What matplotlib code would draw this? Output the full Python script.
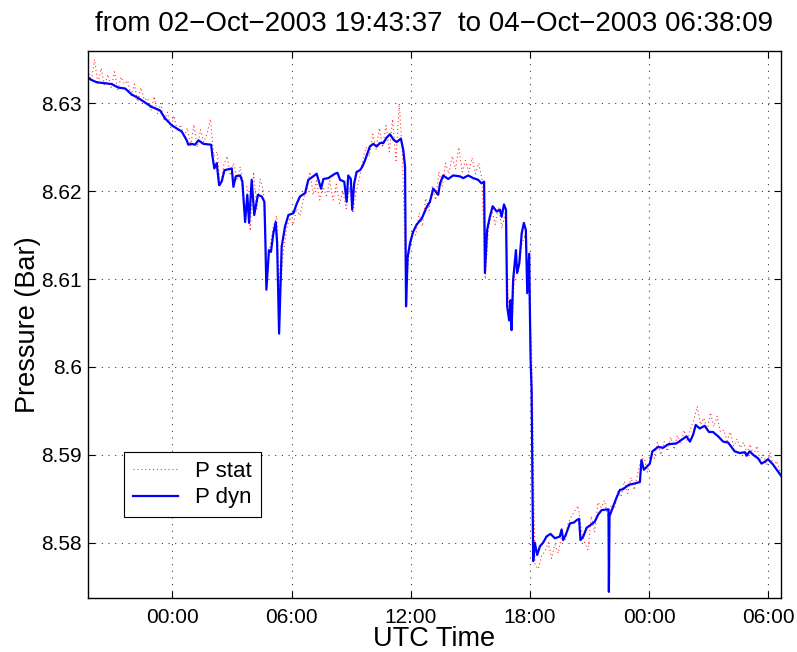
import numpy as np
import pandas as pd
import matplotlib
matplotlib.use('Agg')
import matplotlib.pyplot as plt
import matplotlib.dates as mdates
from matplotlib.ticker import FixedLocator, FuncFormatter

plt.rcParams['font.family'] = ['Liberation Sans', 'DejaVu Sans']

# hours relative to 03-Oct-2003 00:00 UTC
t_start = -4.2731   # 02-Oct-2003 19:43:37
t_end = 30.6358     # 04-Oct-2003 06:38:09

# P dyn (blue)
dyn_t = [-4.27, -4.10, -3.80, -3.39, -3.05, -2.72, -2.38, -2.04, -1.71, -1.37,
         -1.04, -0.62, -0.37, -0.03, 0.47, 0.72, 0.80, 0.97, 1.14, 1.31,
         1.56, 1.95, 2.01, 2.11, 2.23, 2.35, 2.48, 2.62, 2.99, 3.07,
         3.19, 3.41, 3.52, 3.66, 3.77, 3.86, 3.99, 4.12, 4.30, 4.50,
         4.63, 4.68, 4.73, 4.86, 4.96, 5.08, 5.20, 5.27, 5.37, 5.50,
         5.67, 5.84, 6.09, 6.26, 6.42, 6.68, 6.84, 7.09, 7.26, 7.48,
         7.60, 7.85, 8.18, 8.31, 8.44, 8.65, 8.77, 8.85, 8.98, 9.05,
         9.15, 9.27, 9.44, 9.56, 9.69, 9.94, 10.11, 10.28, 10.45, 10.62,
         10.78, 10.95, 11.12, 11.29, 11.50, 11.62, 11.71, 11.76, 11.84, 11.96,
         12.12, 12.29, 12.55, 12.80, 12.96, 13.13, 13.38, 13.47, 13.63, 13.88,
         14.13, 14.47, 14.64, 14.89, 15.14, 15.39, 15.56, 15.69, 15.73, 15.84,
         15.98, 16.12, 16.32, 16.49, 16.57, 16.69, 16.79, 16.85, 16.95, 17.02,
         17.07, 17.15, 17.29, 17.35, 17.46, 17.58, 17.69, 17.79, 17.86, 17.96,
         17.99, 18.03, 18.08, 18.13, 18.16, 18.24, 18.36, 18.50, 18.66, 18.83,
         19.03, 19.25, 19.50, 19.59, 19.67, 19.80, 20.01, 20.21, 20.37, 20.47,
         20.54, 20.68, 20.85, 21.10, 21.26, 21.43, 21.60, 21.95, 21.97, 22.00,
         22.18, 22.35, 22.52, 22.69, 22.86, 22.99, 23.20, 23.36, 23.53, 23.61,
         23.73, 24.03, 24.16, 24.45, 24.70, 24.95, 25.37, 25.62, 25.88, 26.05,
         26.21, 26.34, 26.54, 26.79, 27.01, 27.21, 27.47, 27.72, 27.97, 28.30,
         28.56, 28.81, 28.90, 29.06, 29.23, 29.48, 29.65, 29.81, 29.98, 30.23,
         30.64]
dyn_v = [8.6330, 8.6327, 8.6324, 8.6323, 8.6322, 8.6318, 8.6317, 8.6310, 8.6306, 8.6301,
         8.6296, 8.6292, 8.6283, 8.6275, 8.6268, 8.6258, 8.6253, 8.6254, 8.6253, 8.6258,
         8.6254, 8.6253, 8.6241, 8.6226, 8.6232, 8.6207, 8.6211, 8.6224, 8.6226, 8.6205,
         8.6217, 8.6218, 8.6211, 8.6165, 8.6196, 8.6164, 8.6213, 8.6173, 8.6196, 8.6194,
         8.6188, 8.6144, 8.6088, 8.6133, 8.6131, 8.6152, 8.6165, 8.6141, 8.6038, 8.6137,
         8.6160, 8.6173, 8.6175, 8.6186, 8.6194, 8.6198, 8.6213, 8.6217, 8.6220, 8.6203,
         8.6214, 8.6215, 8.6220, 8.6221, 8.6213, 8.6211, 8.6188, 8.6218, 8.6214, 8.6179,
         8.6209, 8.6222, 8.6224, 8.6228, 8.6235, 8.6251, 8.6254, 8.6251, 8.6255, 8.6255,
         8.6261, 8.6265, 8.6259, 8.6256, 8.6260, 8.6247, 8.6228, 8.6069, 8.6125, 8.6141,
         8.6154, 8.6162, 8.6169, 8.6182, 8.6188, 8.6203, 8.6196, 8.6209, 8.6218, 8.6214,
         8.6218, 8.6217, 8.6215, 8.6218, 8.6215, 8.6213, 8.6209, 8.6211, 8.6107, 8.6156,
         8.6171, 8.6183, 8.6177, 8.6179, 8.6171, 8.6185, 8.6179, 8.6069, 8.6053, 8.6076,
         8.6042, 8.6099, 8.6133, 8.6107, 8.6118, 8.6152, 8.6164, 8.6156, 8.6084, 8.6129,
         8.6069, 8.6008, 8.5974, 8.5853, 8.5779, 8.5800, 8.5786, 8.5796, 8.5800, 8.5807,
         8.5810, 8.5805, 8.5807, 8.5815, 8.5803, 8.5809, 8.5822, 8.5823, 8.5826, 8.5827,
         8.5803, 8.5807, 8.5817, 8.5821, 8.5824, 8.5832, 8.5837, 8.5838, 8.5744, 8.5830,
         8.5841, 8.5851, 8.5860, 8.5861, 8.5864, 8.5866, 8.5867, 8.5868, 8.5869, 8.5894,
         8.5883, 8.5890, 8.5904, 8.5909, 8.5908, 8.5912, 8.5913, 8.5917, 8.5921, 8.5915,
         8.5923, 8.5934, 8.5930, 8.5933, 8.5926, 8.5926, 8.5921, 8.5915, 8.5914, 8.5904,
         8.5902, 8.5903, 8.5899, 8.5904, 8.5900, 8.5896, 8.5890, 8.5892, 8.5895, 8.5889,
         8.5876]

# P stat (red), one value every 10 minutes from -4.25 h, one row per hour
stat_t0 = -4.25
stat_step = 1 / 6
stat_v = [8.6338, 8.6326, 8.6350, 8.6322, 8.6340, 8.6320,
          8.6333, 8.6318, 8.6336, 8.6315, 8.6330, 8.6322,
          8.6326, 8.6308, 8.6322, 8.6302, 8.6318, 8.6304,
          8.6306, 8.6292, 8.6308, 8.6288, 8.6300, 8.6280,
          8.6290, 8.6272, 8.6286, 8.6268, 8.6276, 8.6262,
          8.6272, 8.6252, 8.6276, 8.6250, 8.6270, 8.6256,
          8.6266, 8.6282, 8.6240, 8.6245, 8.6205, 8.6230,
          8.6240, 8.6218, 8.6232, 8.6214, 8.6228, 8.6206,
          8.6205, 8.6155, 8.6222, 8.6180, 8.6214, 8.6200,
          8.6100, 8.6138, 8.6160, 8.6172, 8.6080, 8.6130,
          8.6158, 8.6170, 8.6162, 8.6180, 8.6172, 8.6190,
          8.6200, 8.6222, 8.6196, 8.6212, 8.6190, 8.6205,
          8.6195, 8.6212, 8.6190, 8.6208, 8.6186, 8.6200,
          8.6180, 8.6205, 8.6175, 8.6200, 8.6215, 8.6236,
          8.6250, 8.6240, 8.6265, 8.6248, 8.6272, 8.6250,
          8.6275, 8.6245, 8.6282, 8.6235, 8.6300, 8.6240,
          8.6095, 8.6130, 8.6155, 8.6150, 8.6175, 8.6160,
          8.6192, 8.6178, 8.6205, 8.6190, 8.6222, 8.6205,
          8.6232, 8.6220, 8.6240, 8.6225, 8.6250, 8.6222,
          8.6235, 8.6222, 8.6238, 8.6220, 8.6232, 8.6214,
          8.6100, 8.6160, 8.6178, 8.6162, 8.6182, 8.6158,
          8.6175, 8.6070, 8.6042, 8.6120, 8.6108, 8.6140,
          8.6150, 8.6095, 8.6020, 8.5775, 8.5770, 8.5785,
          8.5790, 8.5800, 8.5782, 8.5798, 8.5788, 8.5806,
          8.5802, 8.5822, 8.5830, 8.5836, 8.5842, 8.5815,
          8.5800, 8.5792, 8.5830, 8.5812, 8.5846, 8.5840,
          8.5848, 8.5830, 8.5842, 8.5838, 8.5858, 8.5852,
          8.5870, 8.5856, 8.5874, 8.5860, 8.5878, 8.5895,
          8.5896, 8.5880, 8.5900, 8.5896, 8.5914, 8.5900,
          8.5915, 8.5904, 8.5920, 8.5906, 8.5922, 8.5912,
          8.5928, 8.5915, 8.5930, 8.5940, 8.5955, 8.5934,
          8.5942, 8.5928, 8.5948, 8.5932, 8.5944, 8.5926,
          8.5928, 8.5916, 8.5926, 8.5910, 8.5918, 8.5908,
          8.5914, 8.5902, 8.5912, 8.5898, 8.5910, 8.5894,
          8.5900, 8.5888, 8.5902, 8.5886, 8.5893, 8.5880]

y_ticks = [8.58, 8.59, 8.60, 8.61, 8.62, 8.63]

base = pd.Timestamp('2003-10-03 00:00:00')


def to_time(hours):
    return base + pd.to_timedelta(np.asarray(hours, dtype=float), unit='h')


stat_t = stat_t0 + np.arange(len(stat_v)) * stat_step

fig = plt.figure(figsize=(7.97, 6.52), dpi=100)
ax = fig.add_axes([0.1098, 0.0828, 0.8702, 0.8394])

ax.plot(to_time(stat_t), stat_v, color='red', linestyle=(0, (1, 2.5)),
        linewidth=0.8, alpha=0.8, label='P stat')
ax.plot(to_time(dyn_t), dyn_v, color='blue', linewidth=1.6, label='P dyn')

ax.set_xlim(to_time([t_start])[0], to_time([t_end])[0])
ax.set_ylim(8.5737, 8.6360)

ax.xaxis.set_major_locator(mdates.HourLocator(byhour=[0, 6, 12, 18]))
ax.xaxis.set_major_formatter(mdates.DateFormatter('%H:%M'))
ax.yaxis.set_major_locator(FixedLocator(y_ticks))
ax.yaxis.set_major_formatter(FuncFormatter(lambda v, p: '%g' % round(v, 4)))

ax.grid(True, color='black', linestyle=(0, (1, 5)), linewidth=0.8, alpha=0.75)
ax.tick_params(direction='in', length=5, width=0.8, top=True, right=True,
               labelsize=15, colors='black')
ax.tick_params(axis='x', pad=7)
ax.tick_params(axis='y', pad=4)
for s in ax.spines.values():
    s.set_linewidth(1.0)

ax.set_xlabel('UTC Time', fontsize=19.5)
ax.set_ylabel('Pressure (Bar)', fontsize=19.5)
ax.xaxis.set_label_coords(0.5, -0.052)
ax.yaxis.set_label_coords(-0.067, 0.5)
ax.set_title('from 02\u2212Oct\u22122003 19:43:37  to 04\u2212Oct\u22122003 06:38:09',
             fontsize=20, pad=14)

leg = ax.legend(loc='upper left', bbox_to_anchor=(0.053, 0.267), borderaxespad=0,
                fontsize=16, fancybox=False, edgecolor='black', framealpha=1,
                handlelength=2.0, borderpad=0.4, labelspacing=0.25)
leg.get_frame().set_linewidth(0.8)

fig.savefig('out.png', dpi=100)
